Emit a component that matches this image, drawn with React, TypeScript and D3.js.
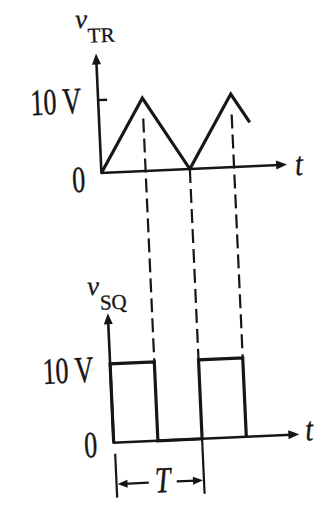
import React from 'react';
import * as d3 from 'd3';

// ---- data ----
const triangleTimes = [0, 0.5, 1, 1.5, 1.7];
const triangleVolts = [0, 10, 0, 10, 6];
const squareTimes = [0, 0, 0.5, 0.5, 1, 1, 1.5, 1.5];
const squareVolts = [0, 10, 10, 0, 0, 10, 10, 0];
const transitionTimes = [0.5, 1, 1.5];
const transitionStartVolts = [7.2, 0, 7.2];
const levelValues = [0, 10];
const levelLabels = ['0', '10 V'];
const axisTMax = 2.1;
const axisVMax = 16.4;
const periodStart = 0;
const periodEnd = 1;

const W = 327;
const H = 509;
const INK = '#161616';
const FONT = 'Liberation Serif, Times New Roman, serif';

const x = d3.scaleLinear().domain([0, 1]).range([105, 193.5]);
const yTop = d3.scaleLinear().domain([0, 10]).range([170, 97]);
const yBot = d3.scaleLinear().domain([0, 10]).range([440, 361]);

function arrow(tx: number, ty: number, dir: 'up' | 'right' | 'left', len = 11, half = 4.5) {
  const p = d3.path();
  if (dir === 'up') {
    p.moveTo(tx, ty);
    p.lineTo(tx - half, ty + len);
    p.lineTo(tx + half, ty + len);
  } else if (dir === 'right') {
    p.moveTo(tx, ty);
    p.lineTo(tx - len, ty - half);
    p.lineTo(tx - len, ty + half);
  } else {
    p.moveTo(tx, ty);
    p.lineTo(tx + len, ty - half);
    p.lineTo(tx + len, ty + half);
  }
  p.closePath();
  return p.toString();
}

function SText(props: {
  x: number; y: number; k: number; size: number; italic?: boolean;
  anchor?: 'start' | 'middle' | 'end'; children: React.ReactNode;
}) {
  return (
    <text
      transform={`translate(${props.x},${props.y}) scale(1,${props.k})`}
      textAnchor={props.anchor || 'start'}
      fontFamily={FONT}
      fontStyle={props.italic ? 'italic' : 'normal'}
      fontSize={props.size}
      fill={INK}
      stroke={INK}
      strokeWidth={0.35}
    >
      {props.children}
    </text>
  );
}

export default function App() {
  const triData: [number, number][] = triangleTimes.map((t, i) => [t, triangleVolts[i]]);
  const sqData: [number, number][] = squareTimes.map((t, i) => [t, squareVolts[i]]);
  const triLine = d3.line<[number, number]>().x(d => x(d[0])).y(d => yTop(d[1]))(triData) || '';
  const sqLine = d3.line<[number, number]>().x(d => x(d[0])).y(d => yBot(d[1]))(sqData) || '';

  const x0 = x(0);
  const xEnd = x(axisTMax);

  const panels = [
    { y: yTop, sub: 'TR', tick: true, nameGap: 26, tenDy: 12, zeroDy: 18, tDy: 11, tDx: 8 },
    { y: yBot, sub: 'SQ', tick: false, nameGap: 19, tenDy: 17, zeroDy: 13.5, tDy: 6.5, tDx: 6 },
  ];

  const tArrowY = 481.5;
  const tLeft = x(periodStart);
  const tRight = x(periodEnd);
  const tMid = x((periodStart + periodEnd) / 2) + 3;

  return (
    <svg width={W} height={H} style={{ position: 'absolute', left: 0, top: 0 }}>
      <rect x={0} y={0} width={W} height={H} fill="#ffffff" />
      <g transform="rotate(-2.6 170 250)">
        {panels.map((p, pi) => {
          const yAxisTip = p.y(axisVMax);
          const y0 = p.y(0);
          return (
            <g key={pi}>
              {/* vertical axis */}
              <line x1={x0} y1={y0} x2={x0} y2={yAxisTip + 8} stroke={INK} strokeWidth={2.6} />
              <path d={arrow(x0, yAxisTip, 'up')} fill={INK} />
              {/* horizontal axis */}
              <line x1={x0 - 1} y1={y0} x2={xEnd - 8} y2={y0} stroke={INK} strokeWidth={2.6} />
              <path d={arrow(xEnd, y0, 'right')} fill={INK} />
              {p.tick && (
                <line x1={x0} y1={p.y(10)} x2={x0 + 9} y2={p.y(10)} stroke={INK} strokeWidth={2.4} />
              )}
              {/* axis name */}
              <text
                x={x0}
                y={yAxisTip - p.nameGap}
                textAnchor="middle"
                fontFamily={FONT}
                fill={INK}
                stroke={INK}
                strokeWidth={0.3}
              >
                <tspan fontStyle="italic" fontSize={27}>v</tspan>
                <tspan fontSize={21} dy={15}>{p.sub}</tspan>
              </text>
              {/* level labels */}
              {levelValues.map((v, i) => (
                <SText
                  key={i}
                  x={v === 0 ? x0 - 23 : x0 - 17}
                  y={p.y(v) + (v === 0 ? p.zeroDy : p.tenDy)}
                  k={1.42}
                  size={26}
                  anchor={v === 0 ? 'middle' : 'end'}
                >
                  {levelLabels[i]}
                </SText>
              ))}
              {/* t label */}
              <SText x={xEnd + p.tDx} y={y0 + p.tDy} k={1.2} size={28} italic>
                t
              </SText>
            </g>
          );
        })}

        {/* dashed projections */}
        {transitionTimes.map((t, i) => (
          <line
            key={i}
            x1={x(t)}
            y1={yTop(transitionStartVolts[i])}
            x2={x(t)}
            y2={yBot(10)}
            stroke={INK}
            strokeWidth={2.2}
            strokeDasharray="14 6"
          />
        ))}

        {/* waveforms */}
        <path d={triLine} fill="none" stroke={INK} strokeWidth={3.2} strokeLinejoin="miter" />
        <path d={sqLine} fill="none" stroke={INK} strokeWidth={3.2} strokeLinejoin="miter" />

        {/* period marker */}
        <line x1={tLeft + 1} y1={yBot(0) + 11} x2={tLeft + 1} y2={yBot(0) + 55} stroke={INK} strokeWidth={2.2} />
        <line x1={tRight} y1={yBot(0)} x2={tRight} y2={yBot(0) + 55} stroke={INK} strokeWidth={2.2} />
        <line x1={tLeft + 8} y1={tArrowY} x2={tMid - 14} y2={tArrowY} stroke={INK} strokeWidth={2.2} />
        <path d={arrow(tLeft + 2, tArrowY, 'left', 10, 4)} fill={INK} />
        <line x1={tMid + 14} y1={tArrowY} x2={tRight - 8} y2={tArrowY} stroke={INK} strokeWidth={2.2} />
        <path d={arrow(tRight - 1, tArrowY, 'right', 10, 4)} fill={INK} />
        <SText x={tMid} y={tArrowY + 10} k={1.3} size={28} italic anchor="middle">
          T
        </SText>
      </g>
    </svg>
  );
}
